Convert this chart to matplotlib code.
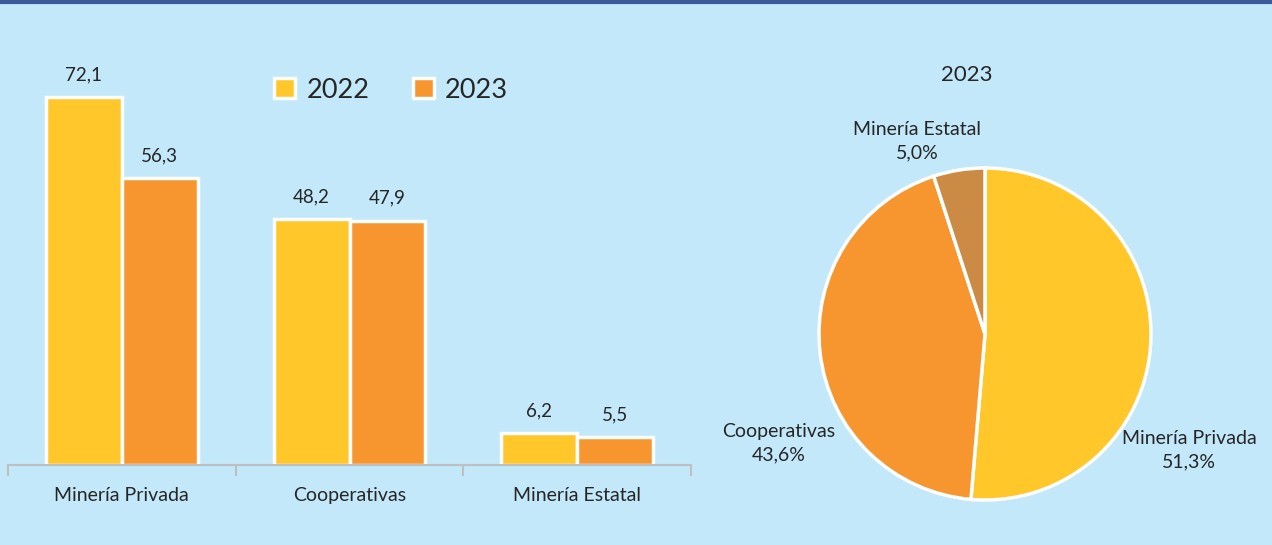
import matplotlib.pyplot as plt
import numpy as np
from matplotlib.patches import Patch

plt.rcParams['font.family'] = ['Lato', 'DejaVu Sans']

# Datos
categorias = ["Minería Privada", "Cooperativas", "Minería Estatal"]
valores_2022 = [72.1, 48.2, 6.2]
valores_2023 = [56.3, 47.9, 5.5]
participacion_2023 = [51.3, 43.6, 5.0]
etiquetas_pie = ["Minería Privada\n51,3%", "Cooperativas\n43,6%", "Minería Estatal\n5,0%"]

bg = "#C2E8F9"
amarillo = "#FFC72A"
naranja = "#F7962F"
cafe = "#CC8B45"
texto = "#262626"

fig = plt.figure(figsize=(12.72, 5.45), dpi=100)
fig.patch.set_facecolor(bg)

# Barras
ax = fig.add_axes([8 / 1272, 1 - 465 / 545, 683 / 1272, 408 / 545])
ax.set_facecolor(bg)
x = np.arange(len(categorias))
w = 1 / 3
b1 = ax.bar(x - w / 2, valores_2022, w, color=amarillo, edgecolor="white", linewidth=2.5)
b2 = ax.bar(x + w / 2, valores_2023, w, color=naranja, edgecolor="white", linewidth=2.5)
for bars, vals in ((b1, valores_2022), (b2, valores_2023)):
    ax.bar_label(bars, labels=[f"{v:.1f}".replace(".", ",") for v in vals],
                 padding=10, fontsize=13.5, color=texto)
ax.set_xlim(-0.5, 2.5)
ax.set_ylim(0, 80)
for s in ("top", "left", "right"):
    ax.spines[s].set_visible(False)
ax.spines["bottom"].set_color("#BFBFBF")
ax.spines["bottom"].set_linewidth(1.5)
ax.set_yticks([])
ax.set_xticks(x)
ax.set_xticklabels(categorias, fontsize=14, color=texto)
ax.tick_params(axis="x", which="major", length=0, pad=16)
ax.set_xticks([-0.5, 0.5, 1.5, 2.5], minor=True)
ax.tick_params(axis="x", which="minor", length=8, width=1.5, color="#BFBFBF")

handles = [Patch(facecolor=amarillo, edgecolor="white", linewidth=2.5, label="2022"),
           Patch(facecolor=naranja, edgecolor="white", linewidth=2.5, label="2023")]
fig.legend(handles=handles, loc="center", bbox_to_anchor=(391 / 1272, 1 - 90 / 545),
           ncol=2, frameon=False, fontsize=19.5, handlelength=0.8, handleheight=0.8,
           handletextpad=0.4, columnspacing=1.6, labelcolor=texto)

# Torta
r = 166
axp = fig.add_axes([(985 - r) / 1272, (545 - 334 - r) / 545, 2 * r / 1272, 2 * r / 545])
axp.set_facecolor(bg)
axp.pie(participacion_2023, colors=[amarillo, naranja, cafe], startangle=90,
        counterclock=False, wedgeprops=dict(edgecolor="white", linewidth=2.5))
axp.set_xlim(-1, 1)
axp.set_ylim(-1, 1)
axp.axis("off")
axp.text(-0.11, 1.56, "2023", ha="center", va="center", fontsize=16, color=texto)
pos = [(1.23, -0.70), (-1.24, -0.66), (-0.41, 1.16)]
for (px, py), lab in zip(pos, etiquetas_pie):
    axp.text(px, py, lab, ha="center", va="center", fontsize=14, color=texto,
             linespacing=1.45)

# Borde superior
fig.add_artist(plt.Line2D([0, 1], [1 - 1.5 / 545, 1 - 1.5 / 545], color="#3B5A9A",
                          linewidth=3, transform=fig.transFigure))

fig.savefig("out.png", dpi=100, facecolor=bg)
